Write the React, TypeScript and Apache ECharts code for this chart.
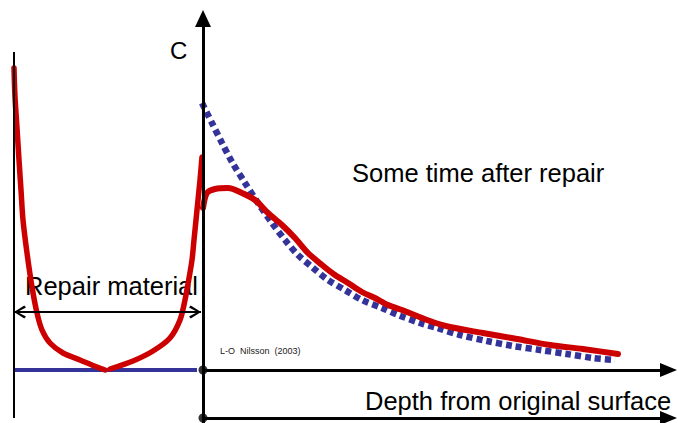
import React, { useEffect, useRef } from "react";
import * as echarts from "echarts";

// Negative depth = inside the repair material.

const repairLeft: [number, number][] = [
  [-189, 302], [-188, 273], [-186, 242], [-184, 210], [-182, 180], [-180, 150],
  [-176, 117], [-171, 83], [-166, 57], [-161, 40], [-153, 27], [-140, 17],
  [-123, 10], [-106, 3], [-98, 0],
];

const repairRight: [number, number][] = [
  [-93, 1], [-70, 9], [-50, 19], [-33, 32], [-23, 50], [-18, 70], [-15, 86],
  [-11, 110], [-9, 130], [-6, 160], [-3, 190], [-1, 213],
];

const afterRepair: [number, number][] = [
  [0, 162], [4, 177], [12, 181], [25, 182], [39, 177], [52, 170], [65, 157],
  [79, 145], [92, 132], [105, 117], [119, 105], [132, 95], [145, 87], [159, 78],
  [172, 72], [185, 65], [199, 60], [227, 49], [247, 43], [280, 37], [314, 31],
  [347, 25], [380, 21], [415, 16],
];

const beforeRepair: [number, number][] = [
  [-1, 267], [9, 247], [19, 227], [29, 208], [42, 187], [55, 167], [69, 147],
  [82, 130], [95, 115], [109, 103], [125, 90], [142, 80], [159, 70], [179, 62],
  [195, 55], [217, 47], [234, 42], [257, 35], [284, 29], [310, 24], [337, 20],
  [364, 16], [390, 12], [412, 10],
];

const repairInitial: [number, number][] = [[-190, 0], [-6, 0]];
const origins: [number, number][] = [[0, 0], [0, -48]];

const xRange = [-203, 475];
const yRange = [-53, 370];

const RED = "#cc0000";
const BLUE = "#333399";
const FONT = '"Liberation Sans", Arial, sans-serif';

const chevron =
  "path://M10,-14 L10.01,-14 L10,-13.99 Z M10,0 L20,12 L17,14 L10,4 L3,14 L0,12 Z";

export default function App() {
  const ref = useRef<HTMLDivElement>(null);
  useEffect(() => {
    const chart = echarts.init(ref.current!, null, { renderer: "svg" });
    chart.setOption({
      animation: false,
      backgroundColor: "#ffffff",
      grid: { left: 0, right: 0, top: 0, bottom: 0, containLabel: false },
      xAxis: { type: "value", min: xRange[0], max: xRange[1], show: false },
      yAxis: { type: "value", min: yRange[0], max: yRange[1], show: false },
      graphic: [
        { type: "text", z: 0, x: 170, y: 50, style: { text: "C", font: `24px ${FONT}`, fill: "#000", verticalAlign: "middle" } },
        { type: "text", z: 0, x: 352, y: 173, style: { text: "Some time after repair", font: `25.5px ${FONT}`, fill: "#000", verticalAlign: "middle" } },
        { type: "text", z: 0, x: 25, y: 286, style: { text: "Repair material", font: `25.5px ${FONT}`, fill: "#000", verticalAlign: "middle" } },
        { type: "text", z: 0, x: 365, y: 401, style: { text: "Depth from original surface", font: `25.5px ${FONT}`, fill: "#000", verticalAlign: "middle" } },
        { type: "text", z: 0, x: 220, y: 350.5, style: { text: "L-O  Nilsson  (2003)", font: `9px ${FONT}`, fill: "#222", verticalAlign: "middle" } },
      ],
      series: [
        {
          name: "axes",
          type: "line",
          data: [],
          silent: true,
          z: 1,
          markLine: {
            silent: true,
            symbol: ["none", "triangle"],
            symbolSize: [14, 17],
            label: { show: false },
            emphasis: { disabled: true },
            lineStyle: { color: "#000", width: 3, type: "solid" },
            data: [
              [{ coord: [0, -53] }, { coord: [0, 351.5], symbolSize: [16, 17] }],
              [{ coord: [0, 0] }, { coord: [465.5, 0] }],
              [{ coord: [0, -48] }, { coord: [465.5, -48] }],
            ],
          },
        },
        {
          name: "edge",
          type: "line",
          data: [],
          silent: true,
          z: 1,
          markLine: {
            silent: true,
            symbol: ["none", "none"],
            label: { show: false },
            emphasis: { disabled: true },
            lineStyle: { color: "#000", width: 2, type: "solid" },
            data: [[{ coord: [-189, -48] }, { coord: [-189, 318] }]],
          },
        },
        {
          name: "thickness",
          type: "line",
          data: [],
          silent: true,
          z: 1,
          markLine: {
            silent: true,
            symbol: [chevron, chevron],
            symbolSize: [13, 24],
            label: { show: false },
            emphasis: { disabled: true },
            itemStyle: { color: "#000" },
            lineStyle: { color: "#000", width: 2, type: "solid" },
            data: [[{ coord: [-189, 58] }, { coord: [-2, 58] }]],
          },
        },
        {
          name: "initial",
          type: "line",
          data: repairInitial,
          symbol: "none",
          z: 2,
          lineStyle: { color: BLUE, width: 4 },
        },
        {
          name: "before",
          type: "line",
          data: beforeRepair,
          symbol: "none",
          smooth: 0.3,
          z: 2,
          lineStyle: { color: BLUE, width: 6.5, type: [6, 4], cap: "butt" },
        },
        {
          name: "repairL",
          type: "line",
          data: repairLeft,
          symbol: "none",
          smooth: 0.3,
          z: 3,
          lineStyle: { color: RED, width: 5.5, cap: "round", join: "round" },
        },
        {
          name: "repairR",
          type: "line",
          data: repairRight,
          symbol: "none",
          smooth: 0.3,
          z: 3,
          lineStyle: { color: RED, width: 5.5, cap: "round", join: "round" },
        },
        {
          name: "after",
          type: "line",
          data: afterRepair,
          symbol: "none",
          smooth: 0.3,
          z: 3,
          lineStyle: { color: RED, width: 6, cap: "round", join: "round" },
        },
        {
          name: "origins",
          type: "scatter",
          data: origins,
          symbol: "circle",
          symbolSize: 9,
          silent: true,
          z: 4,
          itemStyle: { color: "#000" },
        },
      ],
    });
    return () => chart.dispose();
  }, []);
  return (
    <div
      ref={ref}
      style={{ position: "fixed", left: 0, top: 0, width: 678, height: 423, background: "#fff" }}
    />
  );
}
